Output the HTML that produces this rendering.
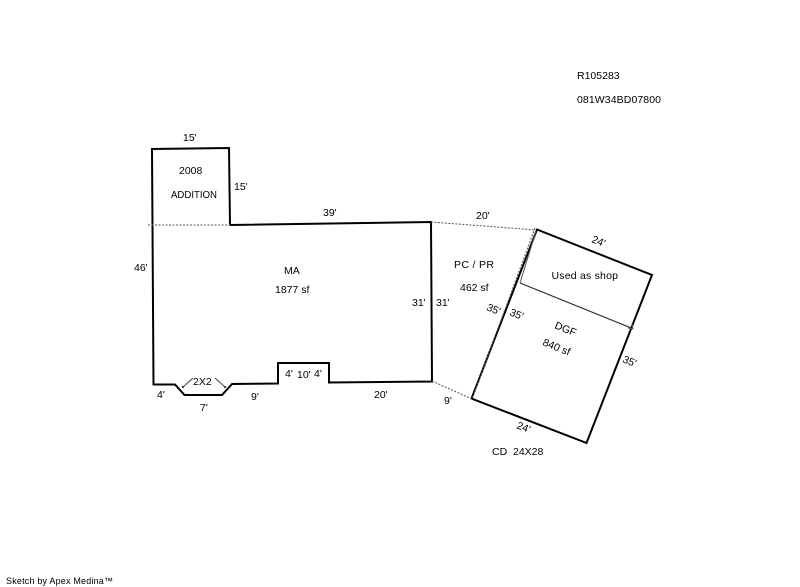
<!DOCTYPE html>
<html>
<head>
<meta charset="utf-8">
<style>
html,body{margin:0;padding:0;background:#fff}
svg{display:block}
text{font-family:"Liberation Sans",sans-serif;font-size:10.5px;fill:#000}
</style>
</head>
<body>
<svg width="800" height="587" viewBox="0 0 800 587" xmlns="http://www.w3.org/2000/svg">
<g fill="none" stroke="#000" stroke-width="2">
<polyline points="230,225 229,148 152,149 153.5,384.5 175,384.5 184.5,395 222,395 232,384 278,383.5 278,363 329,363 329,382.5 432,381.5 431,222 230,225"/>
<polygon points="537,229.5 652,275 586.5,443 471.5,398.5"/>
</g>
<g fill="none" stroke="#555" stroke-width="1" stroke-dasharray="2,1.5">
<line x1="148" y1="225" x2="230" y2="225"/>
<line x1="431" y1="222" x2="536" y2="230"/>
<line x1="432" y1="381" x2="472" y2="399"/>
<line x1="535" y1="228" x2="472" y2="399"/>
</g>
<line x1="520" y1="283" x2="632.5" y2="328.5" stroke="#222" stroke-width="1"/>
<line x1="536" y1="231" x2="520" y2="283" stroke="#555" stroke-width="1"/>
<path d="M633 329l-5-1M633 329l-1-5" stroke="#555" stroke-width="1" fill="none"/>
<g stroke="#444" stroke-width="1" fill="none">
<line x1="193" y1="378" x2="183" y2="387"/>
<line x1="215" y1="378" x2="225" y2="387"/>
</g>
<rect x="182" y="386" width="2" height="2" fill="#444"/>
<rect x="224" y="386" width="2" height="2" fill="#444"/>

<text x="183" y="141">15'</text>
<text x="179" y="174">2008</text>
<text x="171" y="198" textLength="46" lengthAdjust="spacingAndGlyphs">ADDITION</text>
<text x="234" y="190">15'</text>
<text x="323" y="216">39'</text>
<text x="134" y="271">46'</text>
<text x="284" y="274">MA</text>
<text x="275" y="293">1877 sf</text>
<text x="412" y="306">31'</text>
<text x="436" y="306">31'</text>
<text x="476" y="219">20'</text>
<text x="454" y="268" textLength="40">PC / PR</text>
<text x="460" y="291">462 sf</text>
<text x="157" y="398">4'</text>
<text x="193" y="385">2X2</text>
<text x="200" y="411">7'</text>
<text x="251" y="400">9'</text>
<text x="285" y="377">4'</text>
<text x="297" y="378">10'</text>
<text x="314" y="377">4'</text>
<text x="374" y="398">20'</text>
<text x="444" y="404">9'</text>
<text x="551.5" y="279" textLength="66.5">Used as shop</text>
<text x="492" y="455">CD&#160; 24X28</text>
<text x="577" y="79">R105283</text>
<text x="577" y="103" textLength="84">081W34BD07800</text>

<text transform="translate(591,242) rotate(21.8)">24'</text>
<text transform="translate(516,428) rotate(21.8)">24'</text>
<text transform="translate(486,310) rotate(21.8)">35'</text>
<text transform="translate(509,315) rotate(21.8)">35'</text>
<text transform="translate(622,362) rotate(21.8)">35'</text>
<text transform="translate(554,328) rotate(21.8)">DGF</text>
<text transform="translate(542,345) rotate(21.8)">840 sf</text>

<text x="6" y="584" style="font-size:9px" textLength="107">Sketch by Apex Medina™</text>
</svg>
</body>
</html>
